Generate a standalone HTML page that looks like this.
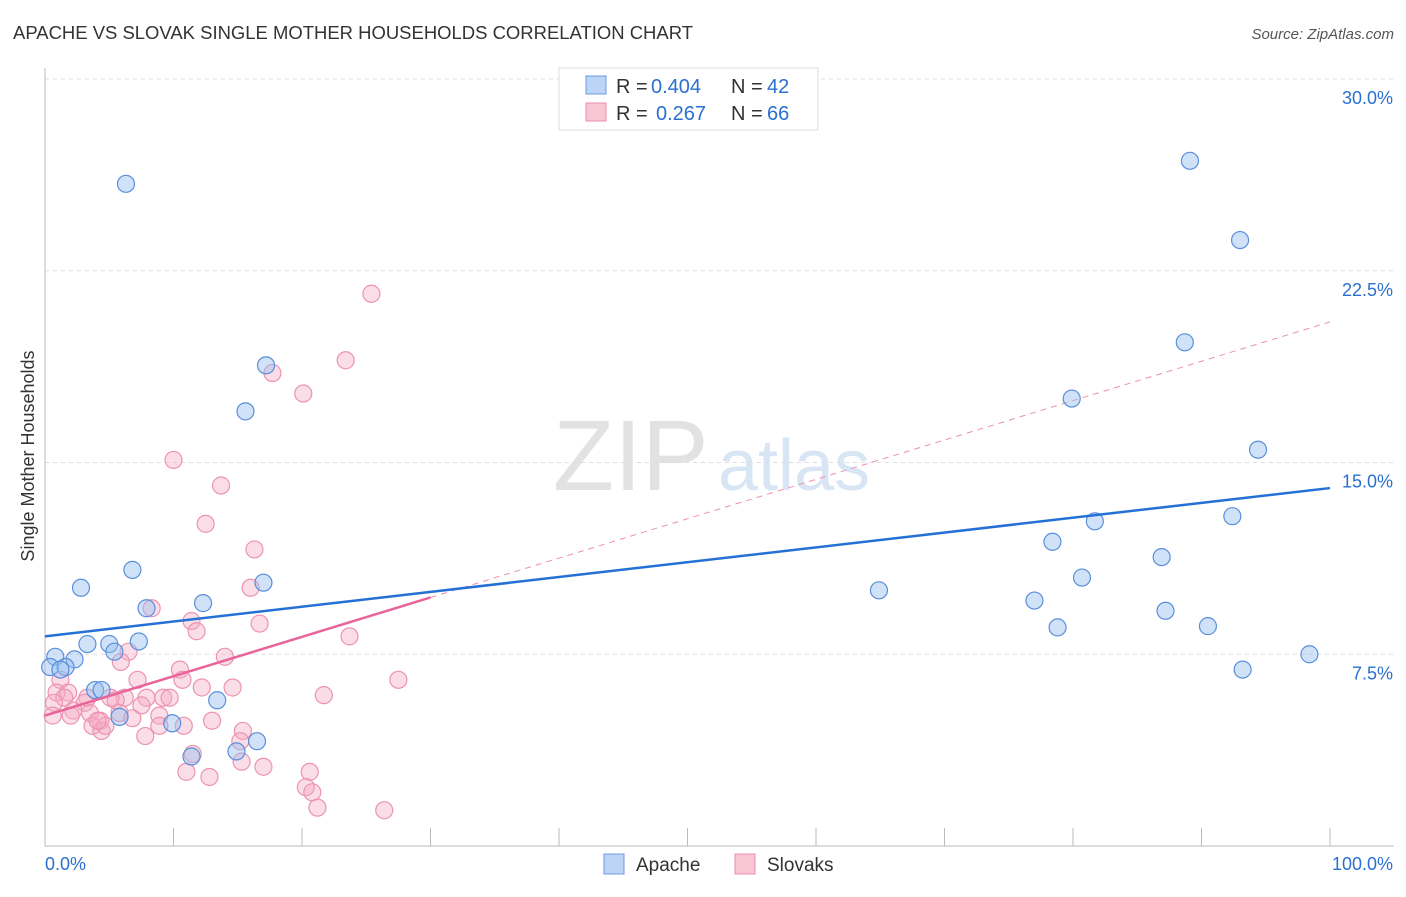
<!DOCTYPE html>
<html><head><meta charset="utf-8"><style>
body{margin:0;background:#fff;font-family:"Liberation Sans",sans-serif}
svg text{font-family:"Liberation Sans",sans-serif}
</style></head><body>
<svg id="chart" width="1406" height="892" xmlns="http://www.w3.org/2000/svg">
<text x="13" y="39" font-size="18" fill="#333" textLength="680" lengthAdjust="spacingAndGlyphs">APACHE VS SLOVAK SINGLE MOTHER HOUSEHOLDS CORRELATION CHART</text>
<text x="1394" y="39" font-size="15" fill="#555" text-anchor="end" font-style="italic">Source: ZipAtlas.com</text>
<text transform="translate(34,456) rotate(-90)" font-size="18" fill="#333" text-anchor="middle">Single Mother Households</text>
<g opacity="0.55">
<text x="553" y="490" font-size="100" fill="#ccc" font-family="Liberation Serif">ZIP</text>
<text x="718" y="490" font-size="72" fill="#b8d0ee">atlas</text></g>
<g id="grid"></g><g id="axes"></g><g id="trends"></g><g id="pts"></g>
<g>
<rect x="559" y="68" width="259" height="62" fill="#fff" stroke="#ddd"/>
<rect x="586" y="76" width="20" height="18" fill="#bcd4f5" stroke="#6b9bdc"/>
<rect x="586" y="103" width="20" height="18" fill="#fac5d5" stroke="#ea8fae"/>
<text x="616" y="93" font-size="20" fill="#333">R =</text>
<text x="651" y="93" font-size="20" fill="#2a6fd1">0.404</text>
<text x="731" y="93" font-size="20" fill="#333">N =</text>
<text x="767" y="93" font-size="20" fill="#2a6fd1">42</text>
<text x="616" y="120" font-size="20" fill="#333">R =</text>
<text x="656" y="120" font-size="20" fill="#2a6fd1">0.267</text>
<text x="731" y="120" font-size="20" fill="#333">N =</text>
<text x="767" y="120" font-size="20" fill="#2a6fd1">66</text>
</g>
<g>
<rect x="604" y="854" width="20" height="20" fill="#bcd4f5" stroke="#6b9bdc"/>
<text x="636" y="871" font-size="19" fill="#333">Apache</text>
<rect x="735" y="854" width="20" height="20" fill="#fac5d5" stroke="#ea8fae"/>
<text x="767" y="871" font-size="19" fill="#333">Slovaks</text>
</g>
</svg>
<script>
const yTicks=[7.5,15,22.5,30];
const yTickLabels=["7.5%","15.0%","22.5%","30.0%"];
const xTickLabels=["0.0%","100.0%"];
const apacheX=[6.3,89.1,93.0,88.7,17.2,15.6,79.9,94.4,92.4,81.7,78.4,6.8,86.9,17.0,2.8,64.9,80.7,12.3,7.9,77.0,87.2,78.8,90.5,3.3,5.0,7.3,5.4,0.8,2.3,98.4,93.2,0.4,1.6,1.2,3.9,4.4,13.4,5.8,9.9,11.4,14.9,16.5];
const apacheY=[25.9,26.8,23.7,19.7,18.8,17.0,17.5,15.5,12.9,12.7,11.9,10.8,11.3,10.3,10.1,10.0,10.5,9.5,9.3,9.6,9.2,8.55,8.6,7.9,7.9,8.0,7.6,7.4,7.3,7.5,6.9,7.0,7.0,6.9,6.1,6.1,5.7,5.05,4.8,3.5,3.7,4.1];
const slovakX=[25.4,23.4,17.7,20.1,10.0,13.7,12.5,16.3,16.0,8.3,11.4,11.8,23.7,16.7,6.5,14.0,5.9,10.5,10.7,7.2,27.5,14.6,12.2,1.2,21.7,0.9,1.8,1.5,7.9,9.2,9.7,6.2,5.1,5.5,3.3,0.7,7.5,3.1,5.8,2.2,0.6,2.0,3.5,6.8,8.9,4.3,13.0,8.9,3.7,4.4,10.8,7.8,15.4,15.2,11.5,15.3,11.0,12.8,17.0,20.6,20.3,20.8,21.2,26.4,4.7,4.1];
const slovakY=[21.6,19.0,18.5,17.7,15.1,14.1,12.6,11.6,10.1,9.3,8.8,8.4,8.2,8.7,7.6,7.4,7.2,6.9,6.5,6.5,6.5,6.2,6.2,6.5,5.9,6.0,6.0,5.8,5.8,5.8,5.8,5.8,5.8,5.7,5.8,5.6,5.5,5.6,5.2,5.3,5.1,5.1,5.2,5.0,5.1,4.9,4.9,4.7,4.7,4.5,4.7,4.3,4.5,4.1,3.6,3.3,2.9,2.7,3.1,2.9,2.3,2.1,1.5,1.4,4.7,4.9];
const apacheTrend=[8.2,14.0];
const slovakTrend=[5.1,20.5];
const slovakSolidEnd=30;

const NS="http://www.w3.org/2000/svg";
const X0=45,X1=1330,YB=846,YT=79;
const sx=v=>X0+(X1-X0)*v/100;
const sy=v=>YB-(YB-YT)*v/30;
function mk(t,a,p){const e=document.createElementNS(NS,t);for(const k in a)e.setAttribute(k,a[k]);p.appendChild(e);return e;}
const grid=document.getElementById('grid'),axes=document.getElementById('axes'),tr=document.getElementById('trends'),pts=document.getElementById('pts');
yTicks.forEach((v,i)=>{
 const l=mk('line',{x1:X0,x2:1394,y1:sy(v),y2:sy(v),stroke:'#ddd','stroke-dasharray':'4,4'},grid);
 
 
 const t=mk('text',{x:1393,y:sy(v)+25,'font-size':18,fill:'#2a6fd1','text-anchor':'end'},axes);
 t.textContent=yTickLabels[i];
 
 
});
let a=mk('line',{x1:X0,x2:X0,y1:68,y2:YB,stroke:'#bbb'},axes);

a=mk('line',{x1:X0,x2:1394,y1:YB,y2:YB,stroke:'#bbb'},axes);

for(let i=0;i<=10;i++){const t=mk('line',{x1:sx(i*10),x2:sx(i*10),y1:YB,y2:828,stroke:'#bbb'},axes);
 
 }
[[0,'start',45],[100,'end',1393]].forEach((d,i)=>{const t=mk('text',{x:d[2],y:870,'font-size':18,fill:'#2a6fd1','text-anchor':d[1]},axes);t.textContent=xTickLabels[i];
 
 });
function draw(xs,ys,fill,stroke,name){xs.forEach((x,i)=>{const c=mk('circle',{cx:sx(x),cy:sy(ys[i]),r:8.5,fill:fill,stroke:stroke,'stroke-width':1.2},pts);
 
 });}
draw(slovakX,slovakY,'rgba(246,170,195,0.4)','#ec93b1','slovak-point');
draw(apacheX,apacheY,'rgba(150,190,240,0.45)','#5a8fdb','apache-point');
const sv=x=>slovakTrend[0]+(slovakTrend[1]-slovakTrend[0])*x/100;
let l=mk('line',{x1:sx(slovakSolidEnd),y1:sy(sv(slovakSolidEnd)),x2:sx(100),y2:sy(sv(100)),stroke:'#ec8fae','stroke-width':1,'stroke-dasharray':'6,5'},tr);

l=mk('line',{x1:sx(0),y1:sy(sv(0)),x2:sx(slovakSolidEnd),y2:sy(sv(slovakSolidEnd)),stroke:'#e8649a','stroke-width':2.5},pts);

l=mk('line',{x1:sx(0),y1:sy(apacheTrend[0]),x2:sx(100),y2:sy(apacheTrend[1]),stroke:'#2470d6','stroke-width':2.5},pts);

</script>
</body></html>
